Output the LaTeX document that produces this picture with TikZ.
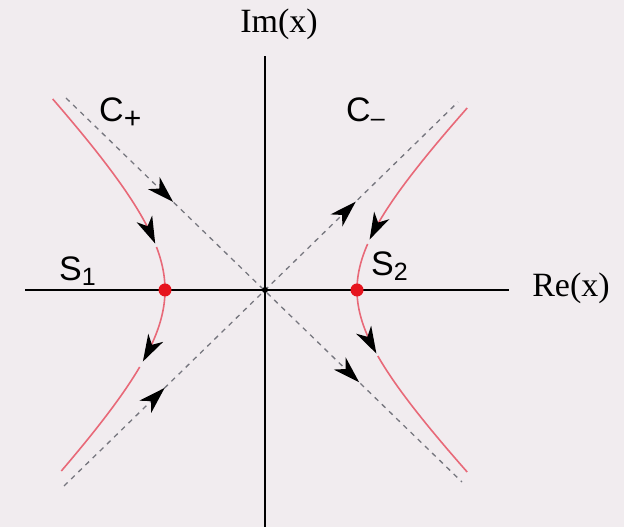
\documentclass[tikz,border=0pt]{standalone}
\usepackage{fontspec}
\setmainfont{Liberation Serif}
\newfontfamily\labsans{Liberation Sans}
\usetikzlibrary{decorations.markings}
\definecolor{bg}{RGB}{241,236,239}
\definecolor{curvered}{RGB}{232,105,120}
\definecolor{dotred}{RGB}{230,20,30}
\definecolor{dashgray}{RGB}{118,118,126}
\tikzset{
  axisline/.style={line width=2.4pt, black},
  asym/.style={dashgray, line width=1.3pt, dash pattern=on 5pt off 5pt},
  hyp/.style={curvered, line width=1.6pt},
  tipmark/.style={postaction={decorate, decoration={markings,
      mark=at position #1 with {\fill[black, solid] (3pt,0pt) -- (-24pt,8.5pt) -- (-16pt,0pt) -- (-24pt,-8.5pt) -- cycle;}}}},
  serlab/.style={font=\fontsize{34}{34}\selectfont, inner sep=0pt},
  sanlab/.style={font=\labsans\fontsize{34}{34}\selectfont, inner sep=0pt, anchor=base west},
  saddle/.style={circle, fill=dotred, inner sep=0pt, minimum size=13pt},
  origindot/.style={circle, fill=black, inner sep=0pt, minimum size=6pt},
  declare function={hxl(\y)=265-100*sqrt(1+(\y/102)^2); hxr(\y)=265+92*sqrt(1+(\y/93)^2);}
}
\newcommand{\subtxt}[2]{\raisebox{#1}{\fontsize{25}{25}\selectfont #2}}
\begin{document}
\begin{tikzpicture}[x=1pt,y=1pt]
  \fill[bg] (0,0) rectangle (624,527);
  \useasboundingbox (0,0) rectangle (624,527);

  \coordinate (O) at (265,237);
  \coordinate (xl) at (25,237);
  \coordinate (xr) at (509,237);
  \coordinate (yt) at (265,471);
  \coordinate (yb) at (265,0);

  % asymptotes (contours)
  \coordinate (cpa) at (66,429);
  \coordinate (cpb) at (462,45);
  \coordinate (cma) at (64,41);
  \coordinate (cmb) at (458,425);
  \draw[asym, tipmark=0.265, tipmark=0.735] (cpa) -- (cpb);
  \draw[asym, tipmark=0.25, tipmark=0.735] (cma) -- (cmb);

  % axes
  \draw[axisline] (xl) -- (xr);
  \draw[axisline, line width=1.8pt] (yb) -- (yt);

  % steepest descent curves
  \draw[hyp, tipmark=0.999] plot[domain=191:49, samples=40, variable=\t] ({hxl(\t)}, {237+\t});
  \draw[hyp, tipmark=0.999] plot[domain=43:-69, samples=40, variable=\t] ({hxl(\t)}, {237+\t});
  \draw[hyp] plot[domain=-77:-181, samples=40, variable=\t] ({hxl(\t)}, {237+\t});

  \draw[hyp, tipmark=0.999] plot[domain=182:53, samples=40, variable=\t] ({hxr(\t)}, {237+\t});
  \draw[hyp, tipmark=0.999] plot[domain=46:-61, samples=40, variable=\t] ({hxr(\t)}, {237+\t});
  \draw[hyp] plot[domain=-66:-182, samples=40, variable=\t] ({hxr(\t)}, {237+\t});

  % points
  \node[saddle] (s1) at (165,237) {};
  \node[saddle] (s2) at (357,237) {};
  \node[origindot] (o) at (O) {};

  % labels
  \node[serlab] (im) at (279,503) {Im(x)};
  \node[serlab] (re) at (571,239) {Re(x)};
  \node[sanlab] (cp) at (99,405) {C\subtxt{-7pt}{\fontsize{30}{30}\selectfont +}};
  \node[sanlab] (cm) at (346,405) {C\subtxt{-5pt}{–}};
  \node[sanlab] (l1) at (59,246) {S\subtxt{-5pt}{1}};
  \node[sanlab] (l2) at (371,251) {S\subtxt{-5pt}{2}};
\end{tikzpicture}
\end{document}
